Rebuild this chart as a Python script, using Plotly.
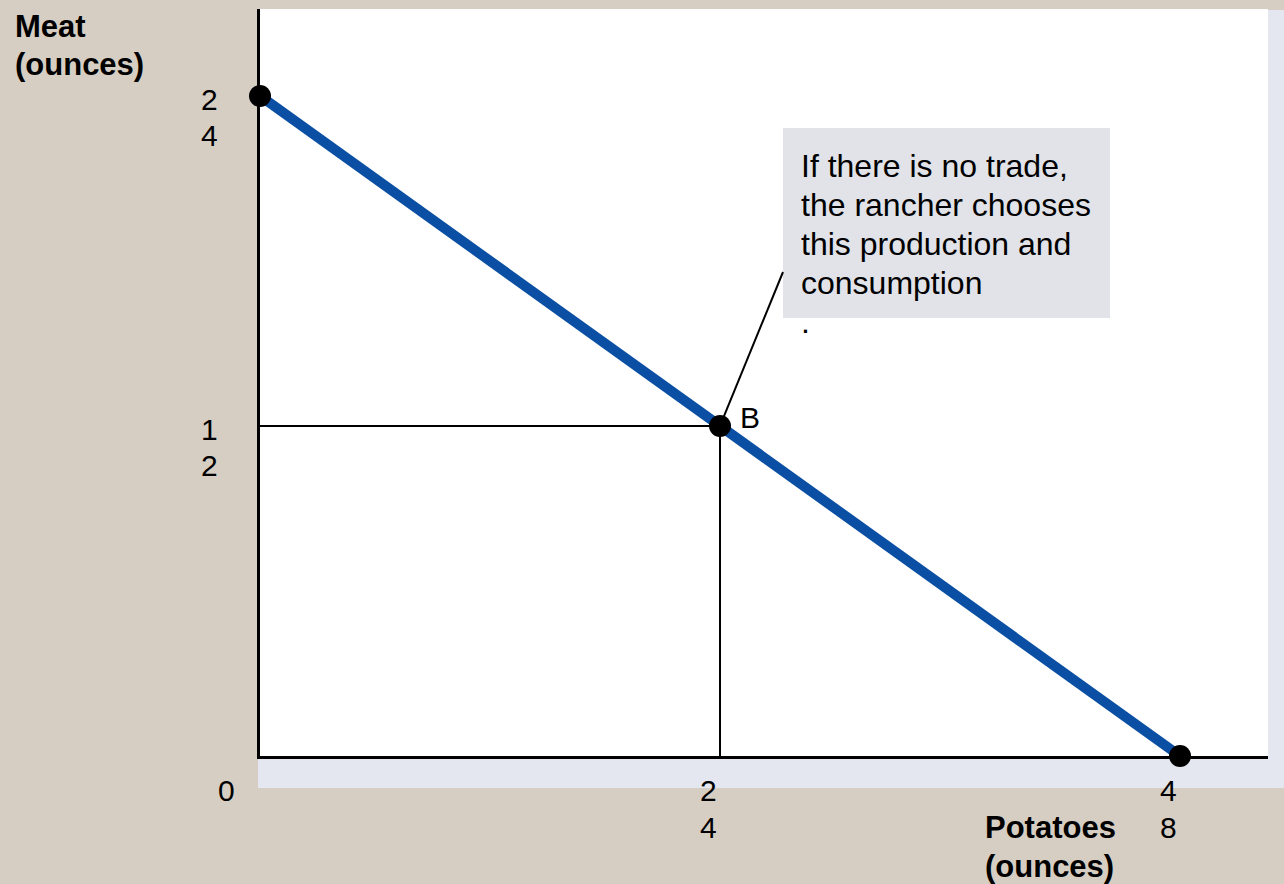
import plotly.graph_objects as go

# ---- data ----
frontier_potatoes = [0, 48]          # ounces
frontier_meat = [24, 0]              # ounces
point_b_potatoes = [24]
point_b_meat = [12]
point_b_label = ["B"]
x_tick_vals = [24, 48]
x_tick_text = ["2<br>4", "4<br>8"]
y_tick_vals = [24, 12]
y_tick_text = ["2<br>4", "1<br>2"]
origin_text = "0"
x_title = "Potatoes<br>(ounces)"
y_title = "Meat<br>(ounces)"
note_lines = ["If there is no trade,", "the rancher chooses",
              "this production and", "consumption", "."]

# ---- layout constants ----
W, H = 1284, 884
ML, MR, MT, MB = 260, 16, 9, 128
PW, PH = W - ML - MR, H - MT - MB
X_MAX = 52.59
Y_MAX = 27.16
BG = "#d6cec3"
SHADOW = "#e4e7ef"
BLUE = "#0a4fa3"
FONT = "Liberation Sans, Arial, sans-serif"


def px_x(px):
    return (px - ML) / PW


def px_y(py):
    return (H - MB - py) / PH


fig = go.Figure()

fig.add_trace(go.Scatter(x=frontier_potatoes, y=frontier_meat, mode="lines",
                         line=dict(color=BLUE, width=10), hoverinfo="skip",
                         cliponaxis=False))
fig.add_trace(go.Scatter(x=frontier_potatoes, y=frontier_meat, mode="markers",
                         marker=dict(color="black", size=22), cliponaxis=False,
                         hoverinfo="skip"))
fig.add_trace(go.Scatter(x=point_b_potatoes, y=point_b_meat, mode="markers",
                         marker=dict(color="black", size=22), cliponaxis=False,
                         hoverinfo="skip"))

shapes = []
shapes.append(dict(type="line", xref="x", yref="y", x0=0, y0=point_b_meat[0],
                   x1=point_b_potatoes[0], y1=point_b_meat[0],
                   line=dict(color="black", width=2), layer="below"))
shapes.append(dict(type="line", xref="x", yref="y", x0=point_b_potatoes[0], y0=0,
                   x1=point_b_potatoes[0], y1=point_b_meat[0],
                   line=dict(color="black", width=2), layer="below"))
# note box (pixel placement)
shapes.append(dict(type="rect", xref="paper", yref="paper", x0=px_x(783), x1=px_x(1110),
                   y0=px_y(318), y1=px_y(128), fillcolor="#e1e3e8",
                   line=dict(width=0), layer="below"))
# leader line from B to the box
shapes.append(dict(type="line", xref="x", yref="y", x0=point_b_potatoes[0],
                   y0=point_b_meat[0], x1=(783 - ML) / PW * X_MAX,
                   y1=(H - MB - 272) / PH * Y_MAX,
                   line=dict(color="black", width=2)))
# shadow strips
shapes.append(dict(type="rect", xref="paper", yref="paper", x0=1.0, x1=px_x(1284),
                   y0=px_y(788), y1=px_y(10), fillcolor=SHADOW, line=dict(width=0),
                   layer="below"))
shapes.append(dict(type="rect", xref="paper", yref="paper", x0=px_x(258), x1=px_x(1284),
                   y0=px_y(788), y1=px_y(758), fillcolor=SHADOW, line=dict(width=0),
                   layer="below"))

annotations = []
tick_font = dict(family=FONT, size=30, color="black")


def add_lines(text, x, y, xref, yref, xshift, yshifts, xanchor, font):
    for line, ys in zip(text.split("<br>"), yshifts):
        annotations.append(dict(x=x, y=y, xref=xref, yref=yref, text=line,
                                showarrow=False, xanchor=xanchor, yanchor="middle",
                                xshift=xshift, yshift=ys, font=font))


for v, t in zip(y_tick_vals, y_tick_text):
    add_lines(t, 0, v, "x", "y", -51, [-4, -40], "center", tick_font)
for v, t in zip(x_tick_vals, x_tick_text):
    add_lines(t, v, 0, "x", "y", -12, [-34, -71], "center", tick_font)
add_lines(origin_text, 0, 0, "x", "y", -34, [-34], "center", tick_font)
# B label
annotations.append(dict(x=point_b_potatoes[0], y=point_b_meat[0], xref="x", yref="y",
                        text=point_b_label[0], showarrow=False, xanchor="center",
                        yanchor="middle", xshift=30, yshift=8, font=tick_font))
# axis titles
title_font = dict(family=FONT, size=31, color="black", weight="bold")
add_lines(y_title, px_x(13), 1, "paper", "paper", 0,
          [-(26 - MT), -(64 - MT)], "left", title_font)
add_lines(x_title, px_x(983), 0, "paper", "paper", 0,
          [-(827 - (H - MB)), -(866 - (H - MB))], "left", title_font)
# note text
note_font = dict(family=FONT, size=32, color="black")
for i, line in enumerate(note_lines):
    annotations.append(dict(x=px_x(799), y=px_y(166 + 39 * i), xref="paper",
                            yref="paper", text=line, showarrow=False,
                            xanchor="left", yanchor="middle", font=note_font))

fig.update_layout(
    width=W, height=H,
    margin=dict(l=ML, r=MR, t=MT, b=MB),
    paper_bgcolor=BG, plot_bgcolor="white",
    showlegend=False,
    shapes=shapes, annotations=annotations,
    xaxis=dict(range=[0, X_MAX], showgrid=False, zeroline=False,
               showticklabels=False, ticks="", showline=True,
               linecolor="black", linewidth=3, fixedrange=True),
    yaxis=dict(range=[0, Y_MAX], showgrid=False, zeroline=False,
               showticklabels=False, ticks="", showline=True,
               linecolor="black", linewidth=3, fixedrange=True),
)

fig.write_html("out.html", config={"displayModeBar": False},
               post_script="document.body.style.margin='0';document.body.style.overflow='hidden';")
